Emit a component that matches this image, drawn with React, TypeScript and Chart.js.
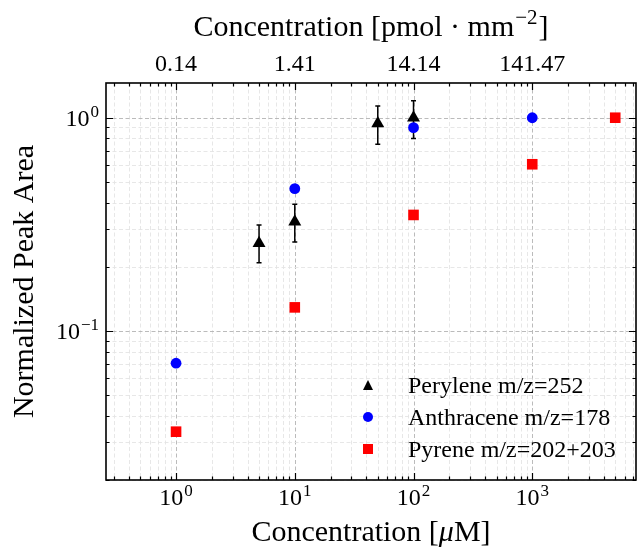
import React, { useEffect, useRef } from 'react';
import { Chart, registerables } from 'chart.js';

Chart.register(...registerables);

// ---- data ----
const peryleneX = [5, 10, 50, 100];
const peryleneY = [0.258, 0.325, 0.94, 1.0];
const peryleneErrLow = [0.209, 0.261, 0.75, 0.8];
const peryleneErrHigh = [0.314, 0.393, 1.135, 1.2];

const anthraceneX = [1, 10, 100, 1000];
const anthraceneY = [0.0706, 0.465, 0.898, 1.0];

const pyreneX = [1, 10, 100, 1000, 5000];
const pyreneY = [0.0337, 0.129, 0.35, 0.605, 1.0];

const seriesLabels = ['Perylene m/z=252', 'Anthracene m/z=178', 'Pyrene m/z=202+203'];
const seriesColors = ['#000000', '#0000ff', '#ff0000'];

// ---- axes ----
const xMin = 0.257;
const xMax = 7480;
const yMin = 0.02;
const yMax = 1.455;
const xMajorTicks = [1, 10, 100, 1000];
const xTickExponents = ['0', '1', '2', '3'];
const topTickLabels = ['0.14', '1.41', '14.14', '141.47'];
const yMajorTicks = [0.1, 1];
const yTickExponents = ['\u22121', '0'];
const bottomTitle = ['Concentration [', '\u03bc', 'M]'];
const topTitle = ['Concentration [pmol \u00b7 mm', '\u22122', ']'];
const leftTitle = 'Normalized Peak Area';

const FONT = '"Liberation Serif", "Times New Roman", serif';

function logTicks(min: number, max: number) {
  const out: { value: number }[] = [];
  const d0 = Math.floor(Math.log10(min));
  const d1 = Math.ceil(Math.log10(max));
  for (let d = d0; d <= d1; d++) {
    for (let m = 1; m <= 9; m++) {
      const v = parseFloat((m * Math.pow(10, d)).toPrecision(6));
      if (v >= min && v <= max) out.push({ value: v });
    }
  }
  return out;
}

function isMajor(v: number) {
  const l = Math.log10(v);
  return Math.abs(l - Math.round(l)) < 1e-6;
}

function drawPow(ctx: CanvasRenderingContext2D, base: string, exp: string, x: number, y: number, align: string) {
  ctx.font = `24px ${FONT}`;
  const wb = ctx.measureText(base).width;
  ctx.font = `17px ${FONT}`;
  const we = ctx.measureText(exp).width;
  const total = wb + 1 + we;
  const x0 = align === 'center' ? x - total / 2 : align === 'right' ? x - total : x;
  ctx.textAlign = 'left';
  ctx.textBaseline = 'alphabetic';
  ctx.font = `24px ${FONT}`;
  ctx.fillText(base, x0, y);
  ctx.font = `17px ${FONT}`;
  ctx.fillText(exp, x0 + wb + 1, y - 9);
}

function drawMarker(ctx: CanvasRenderingContext2D, kind: number, x: number, y: number, s: number) {
  ctx.beginPath();
  if (kind === 0) {
    ctx.moveTo(x, y - s);
    ctx.lineTo(x + s, y + s);
    ctx.lineTo(x - s, y + s);
    ctx.closePath();
  } else if (kind === 1) {
    ctx.arc(x, y, s, 0, Math.PI * 2);
  } else {
    ctx.rect(x - s, y - s, 2 * s, 2 * s);
  }
  ctx.fill();
}

const mplPlugin = {
  id: 'mplStyle',
  beforeDatasetsDraw(chart: any) {
    const { ctx, chartArea: a, scales } = chart;
    const x = scales.x;
    const y = scales.y;
    ctx.save();
    ctx.lineWidth = 0.9;
    ctx.setLineDash([4, 2.5]);
    for (const t of x.ticks) {
      const px = Math.round(x.getPixelForValue(t.value)) + 0.5;
      ctx.strokeStyle = isMajor(t.value) ? '#b3b3b3' : '#e4e4e4';
      ctx.beginPath();
      ctx.moveTo(px, a.top);
      ctx.lineTo(px, a.bottom);
      ctx.stroke();
    }
    for (const t of y.ticks) {
      const py = Math.round(y.getPixelForValue(t.value)) + 0.5;
      ctx.strokeStyle = isMajor(t.value) ? '#b3b3b3' : '#e4e4e4';
      ctx.beginPath();
      ctx.moveTo(a.left, py);
      ctx.lineTo(a.right, py);
      ctx.stroke();
    }
    ctx.setLineDash([]);
    // error bars for perylene
    ctx.strokeStyle = '#000';
    ctx.lineWidth = 1.5;
    for (let i = 0; i < peryleneX.length; i++) {
      const px = x.getPixelForValue(peryleneX[i]);
      const lo = y.getPixelForValue(peryleneErrLow[i]);
      const hi = y.getPixelForValue(peryleneErrHigh[i]);
      ctx.beginPath();
      ctx.moveTo(px, lo);
      ctx.lineTo(px, hi);
      ctx.moveTo(px - 2.5, lo);
      ctx.lineTo(px + 2.5, lo);
      ctx.moveTo(px - 2.5, hi);
      ctx.lineTo(px + 2.5, hi);
      ctx.stroke();
    }
    ctx.restore();
  },
  afterDatasetsDraw(chart: any) {
    const { ctx, chartArea: a, scales } = chart;
    const x = scales.x;
    const x2 = scales.x2;
    const y = scales.y;
    ctx.save();
    // ticks inward
    ctx.strokeStyle = '#000';
    ctx.lineWidth = 1.2;
    for (const t of x.ticks) {
      const px = Math.round(x.getPixelForValue(t.value)) + 0.5;
      const len = isMajor(t.value) ? 7 : 3.5;
      ctx.beginPath();
      ctx.moveTo(px, a.bottom);
      ctx.lineTo(px, a.bottom - len);
      ctx.stroke();
    }
    for (const t of x2.ticks) {
      const px = Math.round(x2.getPixelForValue(t.value)) + 0.5;
      const len = isMajor(t.value) ? 7 : 3.5;
      ctx.beginPath();
      ctx.moveTo(px, a.top);
      ctx.lineTo(px, a.top + len);
      ctx.stroke();
    }
    for (const t of y.ticks) {
      const py = Math.round(y.getPixelForValue(t.value)) + 0.5;
      const len = isMajor(t.value) ? 7 : 3.5;
      ctx.beginPath();
      ctx.moveTo(a.left, py);
      ctx.lineTo(a.left + len, py);
      ctx.moveTo(a.right, py);
      ctx.lineTo(a.right - len, py);
      ctx.stroke();
    }
    // frame
    ctx.lineWidth = 1.6;
    ctx.strokeRect(a.left, a.top, a.right - a.left, a.bottom - a.top);

    // tick labels
    ctx.fillStyle = '#000';
    xMajorTicks.forEach((v, i) => {
      drawPow(ctx, '10', xTickExponents[i], x.getPixelForValue(v), 505, 'center');
    });
    yMajorTicks.forEach((v, i) => {
      drawPow(ctx, '10', yTickExponents[i], a.left - 7, y.getPixelForValue(v) + 8.3, 'right');
    });
    ctx.font = `24px ${FONT}`;
    ctx.textAlign = 'center';
    ctx.textBaseline = 'alphabetic';
    xMajorTicks.forEach((v, i) => {
      ctx.fillText(topTickLabels[i], x2.getPixelForValue(v), 71);
    });

    // titles
    const cx = (a.left + a.right) / 2;
    const drawRich = (parts: string[], baseY: number, italicIdx: number, supIdx: number) => {
      const widths = parts.map((p, i) => {
        ctx.font = i === supIdx ? `21px ${FONT}` : i === italicIdx ? `italic 30px ${FONT}` : `30px ${FONT}`;
        return ctx.measureText(p).width + (i === supIdx ? 2 : 0);
      });
      const total = widths.reduce((s, w) => s + w, 0);
      let xx = cx - total / 2;
      ctx.textAlign = 'left';
      parts.forEach((p, i) => {
        ctx.font = i === supIdx ? `21px ${FONT}` : i === italicIdx ? `italic 30px ${FONT}` : `30px ${FONT}`;
        ctx.fillText(p, xx + (i === supIdx ? 1 : 0), i === supIdx ? baseY - 12 : baseY);
        xx += widths[i];
      });
    };
    drawRich(bottomTitle, 541, 1, -1);
    drawRich(topTitle, 36, -1, 1);

    ctx.save();
    ctx.translate(33, (a.top + a.bottom) / 2);
    ctx.rotate(-Math.PI / 2);
    ctx.font = `30px ${FONT}`;
    ctx.textAlign = 'center';
    ctx.textBaseline = 'alphabetic';
    ctx.fillText(leftTitle, 0, 0);
    ctx.restore();

    // legend
    const lx = 368;
    const ly0 = 385;
    const dy = 32;
    seriesLabels.forEach((lab, i) => {
      const yy = ly0 + i * dy;
      ctx.fillStyle = seriesColors[i];
      drawMarker(ctx, i, lx, yy, 5);
      ctx.fillStyle = '#000';
      ctx.font = `24px ${FONT}`;
      ctx.textAlign = 'left';
      ctx.textBaseline = 'alphabetic';
      ctx.fillText(lab, 408, yy + 7.5);
    });
    ctx.restore();
  },
};

export default function App() {
  const ref = useRef<HTMLCanvasElement | null>(null);
  useEffect(() => {
    if (!ref.current) return;
    const chart = new Chart(ref.current, {
      type: 'scatter',
      data: {
        datasets: [
          {
            label: seriesLabels[0],
            data: peryleneX.map((v, i) => ({ x: v, y: peryleneY[i] })),
            pointStyle: 'triangle',
            pointRadius: 7.5,
            backgroundColor: seriesColors[0],
            borderColor: seriesColors[0],
            borderWidth: 0,
            order: 3,
          },
          {
            label: seriesLabels[1],
            data: anthraceneX.map((v, i) => ({ x: v, y: anthraceneY[i] })),
            pointStyle: 'circle',
            pointRadius: 5.4,
            backgroundColor: seriesColors[1],
            borderColor: seriesColors[1],
            borderWidth: 0,
            order: 2,
          },
          {
            label: seriesLabels[2],
            data: pyreneX.map((v, i) => ({ x: v, y: pyreneY[i] })),
            pointStyle: 'rect',
            pointRadius: 7.5,
            backgroundColor: seriesColors[2],
            borderColor: seriesColors[2],
            borderWidth: 0,
            order: 1,
          },
        ],
      },
      options: {
        animation: false,
        responsive: false,
        devicePixelRatio: 1,
        events: [],
        layout: { autoPadding: false, padding: { left: 0, right: 1, top: 0, bottom: 0 } },
        plugins: { legend: { display: false }, tooltip: { enabled: false } },
        scales: {
          x: {
            type: 'logarithmic',
            position: 'bottom',
            min: xMin,
            max: xMax,
            bounds: 'data',
            ticks: { display: false },
            grid: { display: false },
            border: { display: false },
            afterBuildTicks: (s: any) => { s.ticks = logTicks(xMin, xMax); },
            afterFit: (s: any) => { s.height = 68; },
          },
          x2: {
            axis: 'x',
            type: 'logarithmic',
            position: 'top',
            min: xMin,
            max: xMax,
            bounds: 'data',
            ticks: { display: false },
            grid: { display: false },
            border: { display: false },
            afterBuildTicks: (s: any) => { s.ticks = logTicks(xMin, xMax); },
            afterFit: (s: any) => { s.height = 83; },
          },
          y: {
            type: 'logarithmic',
            position: 'left',
            min: yMin,
            max: yMax,
            bounds: 'data',
            ticks: { display: false },
            grid: { display: false },
            border: { display: false },
            afterBuildTicks: (s: any) => { s.ticks = logTicks(yMin, yMax); },
            afterFit: (s: any) => { s.width = 106; },
          },
        },
      } as any,
      plugins: [mplPlugin],
    });
    return () => chart.destroy();
  }, []);
  return (
    <canvas
      ref={ref}
      width={637}
      height={548}
      style={{ position: 'absolute', left: 0, top: 0, width: 637, height: 548 }}
    />
  );
}
